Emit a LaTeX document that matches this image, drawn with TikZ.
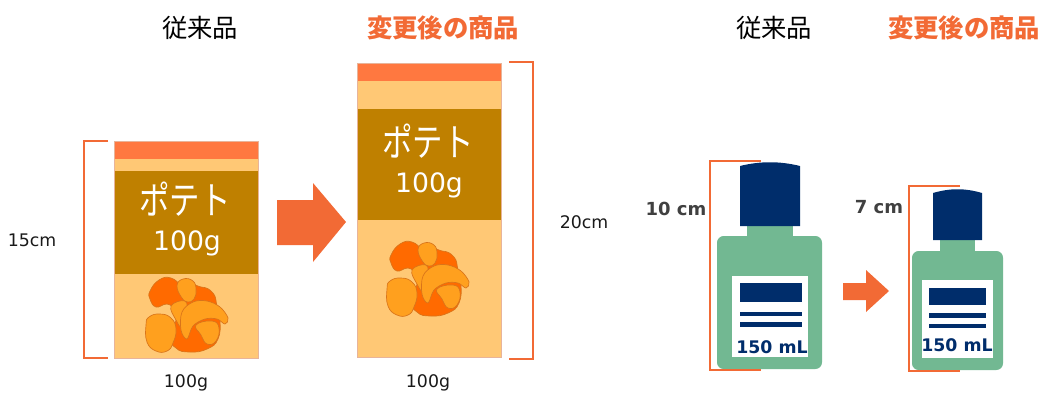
\documentclass[tikz,border=0pt]{standalone}
\usepackage{fontspec}
\setmainfont{DejaVu Sans}
\newfontfamily\jp{Noto Sans CJK JP}
\definecolor{accent}{HTML}{F26A35}
\definecolor{bagtop}{HTML}{FF7840}
\definecolor{baglight}{HTML}{FFC875}
\definecolor{bagbrown}{HTML}{BF8000}
\definecolor{bagedge}{HTML}{E8B49A}
\definecolor{chipdk}{HTML}{FF6A00}
\definecolor{chipam}{HTML}{FFA01E}
\definecolor{chipedge}{HTML}{D9741A}
\definecolor{bottlegreen}{HTML}{72B892}
\definecolor{navy}{HTML}{002D6B}
\definecolor{dimgray}{HTML}{404040}
\begin{document}
\begin{tikzpicture}[x=0.75pt,y=-0.75pt,
  title/.style={font=\jp\fontsize{19}{21}\selectfont},
  newtitle/.style={font=\jp\bfseries\fontsize{19}{21}\selectfont, text=accent},
  dimtext/.style={font=\fontsize{13}{15}\selectfont, text=black!90},
  dimbold/.style={font=\bfseries\fontsize{13.5}{15}\selectfont, text=dimgray},
  bagname/.style={font=\jp\fontsize{24}{26}\selectfont, text=white},
  bagweight/.style={font=\fontsize{20}{22}\selectfont, text=white},
  volume/.style={font=\bfseries\fontsize{13}{15}\selectfont, text=navy},
  bracket/.style={draw=accent, line width=1.5pt},
  thinbracket/.style={draw=accent, line width=1.2pt},
  chipline/.style={draw=chipedge, line width=0.5pt},
  blockarrow/.style={fill=accent, draw=none},
  chips/.pic={
    % back mass of dark chips
    \draw[chipline, fill=chipdk] plot[smooth cycle, tension=0.8] coordinates
      {(2,-25) (14,-29) (26,-23) (30,-10) (33,4) (31,23) (20,33) (3,36) (-11,32) (-15,18)};
    % top-left chip
    \draw[chipline, fill=chipdk] plot[smooth cycle, tension=0.8] coordinates
      {(-37,-25) (-28,-36) (-16,-38) (-6,-29) (-3,-17) (-10,-8) (-20,-12) (-31,-9) (-37,-17)};
    % top chip
    \draw[chipline, fill=chipam] plot[smooth cycle, tension=0.8] coordinates
      {(-10,-30) (-4,-37) (6,-35) (9,-26) (7,-17) (1,-14) (-5,-18)};
    % narrow middle chip
    \draw[chipline, fill=chipam] plot[smooth cycle, tension=0.7] coordinates
      {(-16,-10) (-2,-15) (0,-2) (-5,11) (-11,4)};
    % lower right chip
    \draw[chipline, fill=chipam] plot[smooth cycle, tension=0.8] coordinates
      {(9,9) (25,5) (32,12) (29,25) (20,28) (14,19)};
    % left chip
    \draw[chipline, fill=chipam] plot[smooth cycle, tension=0.8] coordinates
      {(-41,9) (-38,1) (-27,-2) (-16,2) (-11,13) (-14,27) (-20,35) (-31,35) (-40,26)};
    % curled chip
    \draw[chipline, fill=chipam] plot[smooth cycle, tension=0.6] coordinates
      {(-5,-4) (6,-14) (20,-15) (33,-9) (41,2) (38,8) (30,3) (18,3) (6,10) (0,23) (-6,14)};
  }]
\useasboundingbox (0,0) rectangle (1046,394);

% ---- titles ----
\node[title] (t1) at (200,28) {従来品};
\node[newtitle] (t2) at (443,28) {変更後の商品};
\node[title] (t3) at (774,28) {従来品};
\node[newtitle] (t4) at (964,28) {変更後の商品};

% ---- original bag (15 cm) ----
\fill[baglight] (114,141) rectangle (258,358);
\fill[bagtop] (114,141) rectangle (258,159);
\fill[bagbrown] (114,171) rectangle (258,274);
\draw[bagedge, line width=0.5pt] (114,141) rectangle (258,358);
\node[bagname] (p1) at (185,199) {\scalebox{0.95}[1.2]{ポテト}};
\node[bagweight] (w1) at (187,243) {100g};
\pic at (187,316) {chips};
\draw[bracket] (108,141) -- (84,141) -- (84,358) -- (108,358);
\node[dimtext] (h1) at (32,240) {15cm};
\node[dimtext] (g1) at (186,383) {100g};

% ---- enlarged arrow ----
\fill[blockarrow] (277,200) -- (313,200) -- (313,183) -- (346,222) -- (313,262) -- (313,245) -- (277,245) -- cycle;

% ---- new bag (20 cm) ----
\fill[baglight] (357,63) rectangle (501,357);
\fill[bagtop] (357,63) rectangle (501,81);
\fill[bagbrown] (357,109) rectangle (501,220);
\draw[bagedge, line width=0.5pt] (357,63) rectangle (501,357);
\node[bagname] (p2) at (428,141) {\scalebox{0.95}[1.2]{ポテト}};
\node[bagweight] (w2) at (429,185) {100g};
\pic at (428,280) {chips};
\draw[bracket] (509,62) -- (533,62) -- (533,359) -- (509,359);
\node[dimtext] (h2) at (584,222) {20cm};
\node[dimtext] (g2) at (428,383) {100g};

% ---- original bottle (10 cm) ----
\fill[bottlegreen] (747,222) rectangle (793,240);
\fill[bottlegreen, rounded corners=5pt] (717,236) rectangle (822,369);
\fill[navy] (740,226) -- (740,166) .. controls (760,161) and (780,161) .. (800,166) -- (800,226) -- cycle;
\fill[white] (732,276) rectangle (808,357);
\fill[navy] (740,283) rectangle (802,302);
\fill[navy] (740,312) rectangle (802,316);
\fill[navy] (740,322) rectangle (802,327);
\node[volume] (v1) at (772,347) {150 mL};
\draw[thinbracket] (761,161) -- (710,161) -- (710,370) -- (761,370);
\node[dimbold] (h3) at (676,209) {10 cm};

% ---- small arrow ----
\fill[blockarrow] (843,283) -- (866,283) -- (866,270) -- (889,291) -- (866,312) -- (866,300) -- (843,300) -- cycle;

% ---- new bottle (7 cm) ----
\fill[bottlegreen] (940,236) rectangle (975,254);
\fill[bottlegreen, rounded corners=5pt] (912,251) rectangle (1003,370);
\fill[navy] (933,240) -- (933,193) .. controls (950,188) and (965,188) .. (982,193) -- (982,240) -- cycle;
\fill[white] (922,280) rectangle (993,358);
\fill[navy] (929,288) rectangle (986,305);
\fill[navy] (929,313) rectangle (986,318);
\fill[navy] (929,324) rectangle (986,328);
\node[volume] (v2) at (957,345) {150 mL};
\draw[thinbracket] (960,186) -- (909,186) -- (909,371) -- (960,371);
\node[dimbold] (h4) at (879,207) {7 cm};
\end{tikzpicture}
\end{document}
